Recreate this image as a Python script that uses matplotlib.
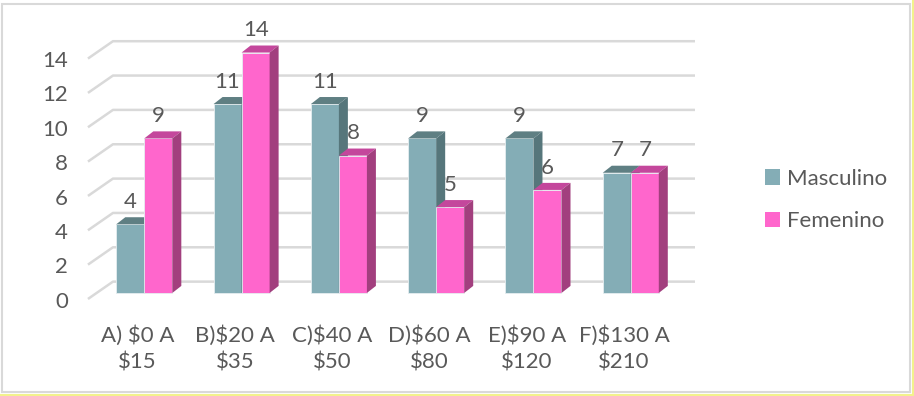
"""
Gasto por genero - columnas agrupadas con efecto 3D
"""

import matplotlib.pyplot as plt
from matplotlib.patches import Polygon, Rectangle
from matplotlib.lines import Line2D

plt.rcParams['font.family'] = ['Lato', 'DejaVu Sans']

categories = ['A) $0 A\n$15', 'B)$20 A\n$35', 'C)$40 A\n$50',
              'D)$60 A\n$80', 'E)$90 A\n$120', 'F)$130 A\n$210']
masculino = [4, 11, 11, 9, 9, 7]
femenino = [9, 14, 8, 5, 6, 7]
series_names = ['Masculino', 'Femenino']
yticks = [0, 2, 4, 6, 8, 10, 12, 14]

# colours: front, top, side
teal = ('#84adb6', '#5f7f83', '#56767b')
pink = ('#ff66cc', '#c4479c', '#a23f7e')
text_color = '#595959'
grid_color = '#d9d9d9'
fs = 16

# geometry in data units (x: one category = 1, y: value units)
bar_w = 0.288
depth_x, depth_y = 0.0925, 0.41
wall_x0, wall_x1, wall_dy = -0.322, 5.66, 0.66
floor_x0, floor_dy = -0.579, -0.35


def draw_bar(ax, x0, h, colors):
    front, top, side = colors
    ax.add_patch(Rectangle((x0, 0), bar_w, h, facecolor=front,
                           edgecolor='#e6eef0', lw=0.6, zorder=3))
    ax.add_patch(Polygon([(x0, h), (x0 + bar_w, h),
                          (x0 + bar_w + depth_x, h + depth_y),
                          (x0 + depth_x, h + depth_y)],
                         facecolor=top, edgecolor='none', zorder=3))
    ax.add_patch(Polygon([(x0 + bar_w, 0), (x0 + bar_w + depth_x, depth_y),
                          (x0 + bar_w + depth_x, h + depth_y),
                          (x0 + bar_w, h)],
                         facecolor=side, edgecolor='none', zorder=3))


fig = plt.figure(figsize=(9.14, 3.96), dpi=100)
ax = fig.add_axes([0, 0, 1, 1])
ax.set_xlim(-1.483, 7.911)
ax.set_ylim(-6.0, 17.06)
ax.axis('off')

# back wall gridlines and floor diagonals
for v in yticks:
    ax.plot([floor_x0, wall_x0, wall_x1],
            [v + floor_dy, v + wall_dy, v + wall_dy],
            color=grid_color, lw=1.8, zorder=1, solid_capstyle='butt')
    ax.text(-0.784, v + floor_dy - 0.15, str(v), ha='right', va='center',
            fontsize=fs, color=text_color)

for i, (m, f) in enumerate(zip(masculino, femenino)):
    draw_bar(ax, i - bar_w, m, teal)
    draw_bar(ax, i, f, pink)
    ax.text(i - bar_w / 2, m + 1.3, str(m), ha='center', va='center',
            fontsize=fs, color=text_color, zorder=4)
    ax.text(i + bar_w / 2, f + 1.3, str(f), ha='center', va='center',
            fontsize=fs, color=text_color, zorder=4)
    ax.text(i - 0.07, -3.25, categories[i], ha='center', va='center',
            fontsize=fs, color=text_color, linespacing=1.38)

handles = [Rectangle((0, 0), 1, 1, facecolor=teal[0]),
           Rectangle((0, 0), 1, 1, facecolor=pink[0])]
leg = fig.legend(handles, series_names, loc='center left',
                 bbox_to_anchor=(765 / 914, 1 - 200 / 396), frameon=False,
                 fontsize=fs, handlelength=0.68, handleheight=0.68,
                 handletextpad=0.3, labelspacing=1.0,
                 borderpad=0, borderaxespad=0)
for t in leg.get_texts():
    t.set_color(text_color)

# chart border
fig.add_artist(Rectangle((2 / 914, 1 - 392 / 396), 908 / 914, 388 / 396,
                         transform=fig.transFigure, fill=False,
                         edgecolor='#d9d9d9', lw=1.5))
fig.add_artist(Line2D([913 / 914, 913 / 914], [0, 1], color='#f2f28c',
                      lw=1.5, transform=fig.transFigure))
fig.add_artist(Line2D([0, 1], [1.5 / 396, 1.5 / 396], color='#f2f28c',
                      lw=1.5, transform=fig.transFigure))

fig.savefig('out.png', dpi=100)
plt.close()
